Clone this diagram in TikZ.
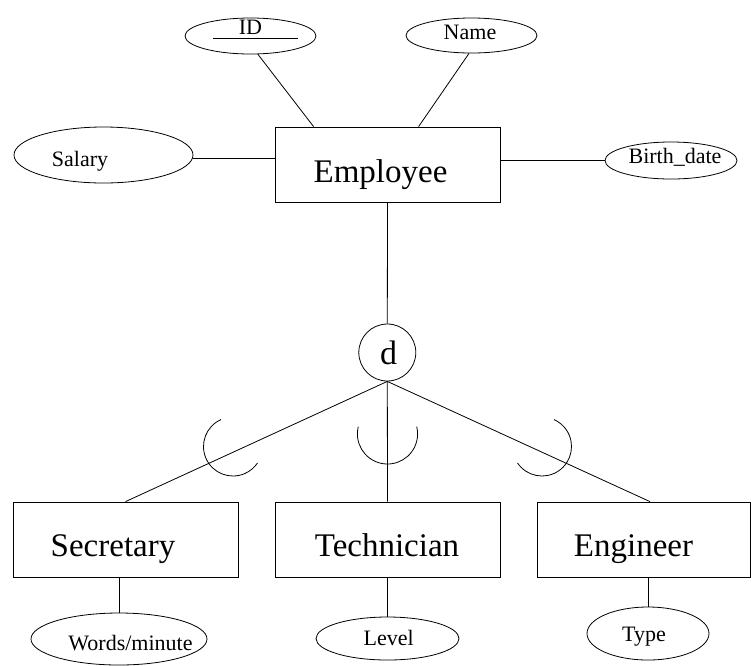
\documentclass[tikz,border=0pt]{standalone}
\usepackage{fontspec}
\setmainfont{Liberation Serif}
\usetikzlibrary{shapes.geometric,calc}
\begin{document}
\begin{tikzpicture}[x=1pt,y=1pt]
\tikzset{
 ln/.style={line width=0.8pt},
 ent/.style={draw, ln, rectangle, inner sep=0, minimum width=225pt, minimum height=75pt},
 attr/.style={draw, ln, ellipse, inner sep=0},
 big/.style={anchor=base, inner sep=0, font=\fontsize{33}{40}\selectfont},
 small/.style={anchor=base, inner sep=0, font=\fontsize{22}{26}\selectfont},
}
\useasboundingbox (0,0) rectangle (751,-665);
% entities
\node[ent] (emp) at (387.5,-164.5) {};
\node[ent] (sec) at (125.5,-539.5) {};
\node[ent] (tech) at (387.5,-539.5) {};
\node[ent, minimum width=213pt] (eng) at (643.5,-539.5) {};
\node[big] (empT) at (380.5,-182) {Employee};
\node[big] (secT) at (113,-556) {Secretary};
\node[big] (techT) at (387,-556) {Technician};
\node[big] (engT) at (633.5,-556.5) {Engineer};
% disjoint circle
\node[draw, ln, circle, minimum size=57pt, inner sep=0] (dd) at (387.3,-352.5) {};
\node[big, font=\fontsize{34}{40}\selectfont] (dT) at (388.5,-364) {d};
% attributes
\node[attr, minimum width=131pt, minimum height=36pt] (id) at (250.5,-36) {};
\node[small] (idT) at (250.5,-34) {ID};
\node[attr, minimum width=131pt, minimum height=35pt] (name) at (471.5,-35.5) {};
\node[small] (nameT) at (470,-39.3) {Name};
\node[attr, minimum width=179pt, minimum height=56pt] (sal) at (103.5,-155) {};
\node[small] (salT) at (80,-166.5) {Salary};
\node[attr, minimum width=132pt, minimum height=37pt] (bd) at (671,-160.5) {};
\node[small] (bdT) at (675,-163) {Birth\_date};
\node[attr, minimum width=176pt, minimum height=52pt] (words) at (119,-639) {};
\node[small] (wordsT) at (130.5,-650.5) {Words/minute};
\node[attr, minimum width=143pt, minimum height=43pt] (lev) at (387.5,-638.5) {};
\node[small] (levT) at (388.7,-645) {Level};
\node[attr, minimum width=122pt, minimum height=53pt] (typ) at (648,-633.5) {};
\node[small] (typT) at (644,-641.7) {Type};
% key underline
\draw[ln] ($(id.center)+(-37.5,-2.3)$) -- ++(85.3,0);
% connectors
\draw[ln] (id.-68.5) -- ([xshift=39pt]emp.north west);
\draw[ln] (name.-98) -- ([xshift=144pt]emp.north west);
\draw[ln] (sal.-2.6) -- (sal.-2.6 -| emp.west);
\draw[ln] (bd.west) -- (bd.west -| emp.east);
\draw[ln] (emp.south) -- (dd.north);
\draw[ln] (dd.south) -- (sec.north);
\draw[ln] (dd.south) -- (tech.north);
\draw[ln] (dd.south) -- ([xshift=6.5pt]eng.north);
\draw[ln] (words.north |- sec.south) -- (words.north);
\draw[ln] (lev.north |- tech.south) -- (lev.north);
\draw[ln] (typ.north |- eng.south) -- (typ.north);
% subset arcs
\coordinate (aL) at (233,-446.5);
\coordinate (aM) at (387.5,-433.9);
\coordinate (aR) at (542,-446.5);
\draw[ln] ([shift={(114:29.5pt)}]aL) arc[start angle=114, end angle=326, radius=29.5pt];
\draw[ln] ([shift={(166:30.1pt)}]aM) arc[start angle=166, end angle=374, radius=30.1pt];
\draw[ln] ([shift={(214:29.5pt)}]aR) arc[start angle=214, end angle=426, radius=29.5pt];
\end{tikzpicture}
\end{document}
